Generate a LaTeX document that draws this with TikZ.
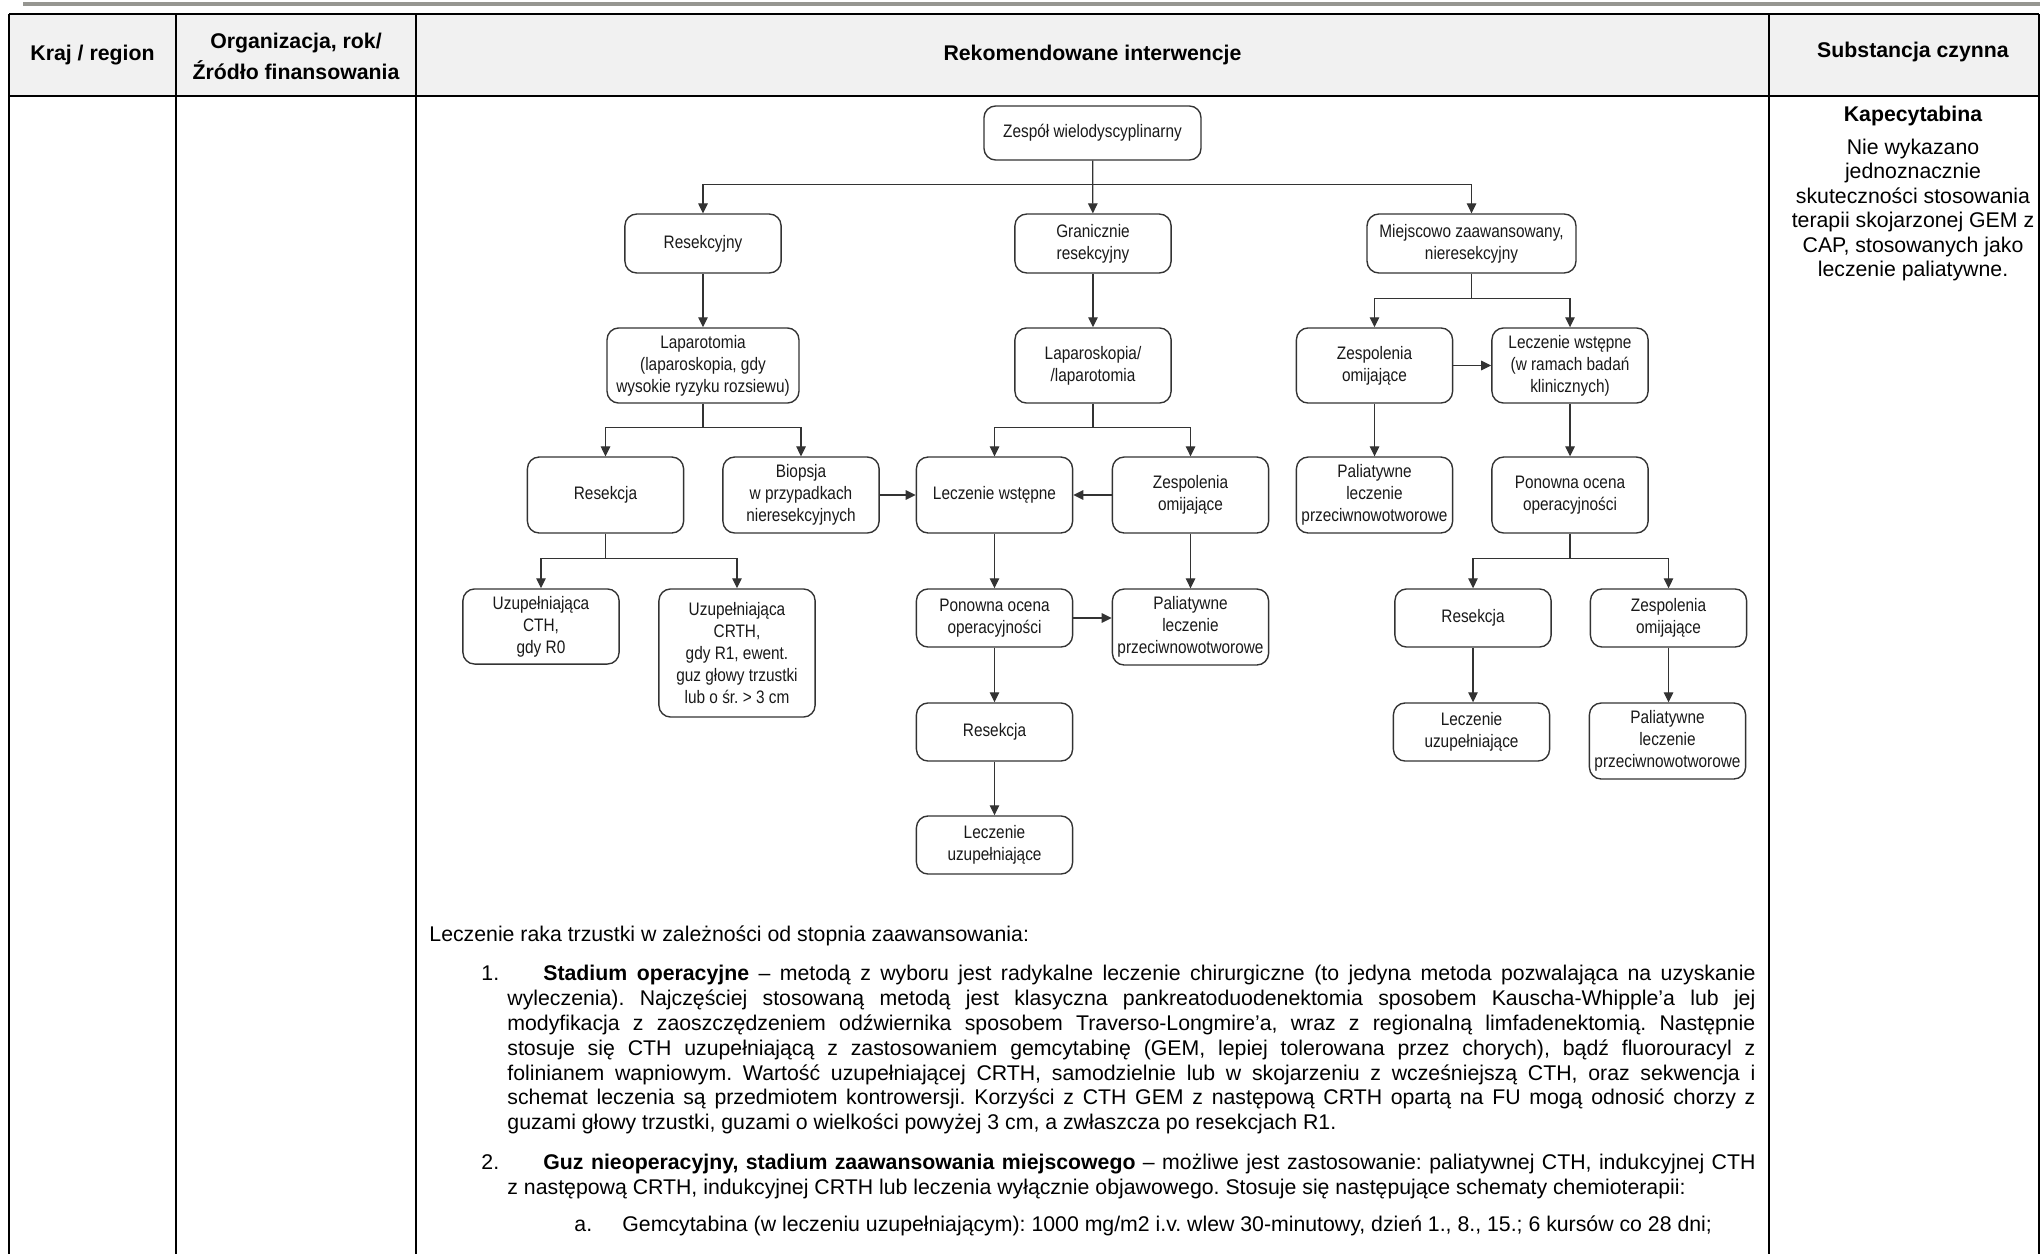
\documentclass[tikz,border=0pt]{standalone}
\usepackage{fontspec}
\setmainfont{Liberation Sans}
\newfontfamily\flowfont[FakeStretch=0.85]{Liberation Sans}
\usetikzlibrary{arrows.meta}
\tolerance=9999
\hyphenpenalty=10000
\exhyphenpenalty=10000
\frenchspacing
\definecolor{rulegray}{RGB}{150,150,145}
\definecolor{headgray}{RGB}{241,241,241}
\tikzset{
  box/.style={draw=black!80, line width=0.65pt, rounded corners=5.5pt, align=center, inner sep=0pt,
    font=\flowfont\fontsize{8.5}{10.3}\selectfont, text=black!90, minimum width=73.4pt},
  arr/.style={draw=black!80, line width=0.6pt, -{Triangle[length=4.7pt,width=4.5pt]}},
  head/.style={font=\bfseries\fontsize{10}{14.5}\selectfont, align=center, inner sep=0pt},
  txt/.style={anchor=base west, inner sep=0pt, font=\fontsize{10}{11.7}\selectfont},
  para/.style={txt, text width=586.6pt, align=justify},
  tabline/.style={line width=1.25pt}
}
\begin{document}
\begin{tikzpicture}[x=0.47pt,y=-0.47pt]
\useasboundingbox (0,0) rectangle (2040,1254);
\draw[rulegray, line width=1.9pt] (23,4) -- (2040,4);
\fill[headgray] (9,14) rectangle (2039,96);
\draw[tabline] (9,14) -- (2039,14);
\draw[tabline] (9,96) -- (2039,96);
\foreach \x in {9,176,416,1769,2039}
  \draw[tabline] (\x,14) -- (\x,1254);
\node[head] (kraj) at (92.5,55) {Kraj / region};
\node[head] (org) at (296,56) {Organizacja, rok/\\Źródło finansowania};
\node[head] (rek) at (1092.5,55) {Rekomendowane interwencje};
\node[head] (sub) at (1913,52) {Substancja czynna};
\node[head] (kap) at (1913,116) {Kapecytabina};
\node[align=center, inner sep=0pt, font=\fontsize{10}{11.5}\selectfont] (opis) at (1913,210)
  {Nie wykazano\\jednoznacznie\\skuteczności stosowania\\terapii skojarzonej GEM z\\CAP, stosowanych jako\\leczenie paliatywne.};

\node[box, minimum width=102pt, minimum height=25.4pt] (zesp) at (1092.5,133) {Zespół wielodyscyplinarny};
\node[box, minimum height=27.7pt] (resy) at (703,243.5) {Resekcyjny};
\node[box, minimum height=27.7pt] (gran) at (1093,243.5) {Granicznie\\resekcyjny};
\node[box, minimum width=98.2pt, minimum height=27.7pt] (miej) at (1471.5,243.5) {Miejscowo zaawansowany,\\nieresekcyjny};
\node[box, minimum width=90.2pt, minimum height=35.3pt] (lapt) at (703,365.5) {Laparotomia\\(laparoskopia, gdy\\wysokie ryzyku rozsiewu)};
\node[box, minimum height=35.3pt] (lapk) at (1093,365.5) {Laparoskopia/\\/laparotomia};
\node[box, minimum height=35.3pt] (zespR) at (1374.5,365.5) {Zespolenia\\omijające};
\node[box, minimum height=35.3pt] (leczB) at (1570,365.5) {Leczenie wstępne\\(w ramach badań\\klinicznych)};
\node[box, minimum height=35.7pt] (resL) at (605.5,495) {Resekcja};
\node[box, minimum height=35.7pt] (biop) at (801,495) {Biopsja\\w przypadkach\\nieresekcyjnych};
\node[box, minimum height=35.7pt] (leczW) at (994.5,495) {Leczenie wstępne};
\node[box, minimum height=35.7pt] (zespM) at (1190.5,495) {Zespolenia\\omijające};
\node[box, minimum height=35.7pt] (paliR) at (1374.5,495) {Paliatywne\\leczenie\\przeciwnowotworowe};
\node[box, minimum height=35.7pt] (ponR) at (1570,495) {Ponowna ocena\\operacyjności};
\node[box, minimum height=35.3pt] (uzCTH) at (541,626.5) {Uzupełniająca\\CTH,\\gdy R0};
\node[box, minimum height=60.2pt] (uzCRTH) at (737,653) {Uzupełniająca\\CRTH,\\gdy R1, ewent.\\guz głowy trzustki\\lub o śr. > 3 cm};
\node[box, minimum height=27.3pt] (ponM) at (994.5,618) {Ponowna ocena\\operacyjności};
\node[box, minimum height=35.7pt] (paliM) at (1190.5,627) {Paliatywne\\leczenie\\przeciwnowotworowe};
\node[box, minimum height=27.3pt] (resM) at (994.5,732) {Resekcja};
\node[box, minimum height=27.3pt] (leczM) at (994.5,845) {Leczenie\\uzupełniające};
\node[box, minimum height=27.3pt] (resRR) at (1473,618) {Resekcja};
\node[box, minimum height=27.3pt] (zespRR) at (1668.5,618) {Zespolenia\\omijające};
\node[box, minimum height=27.3pt] (leczRR) at (1471.5,732) {Leczenie\\uzupełniające};
\node[box, minimum height=35.7pt] (paliRR) at (1667.5,741) {Paliatywne\\leczenie\\przeciwnowotworowe};

\draw[arr] (zesp) -- (gran);
\draw[arr] (zesp.south) -- ++(0,24) -| (resy.north);
\draw[arr] (zesp.south) -- ++(0,24) -| (miej.north);
\draw[arr] (resy) -- (lapt);
\draw[arr] (gran) -- (lapk);
\draw[arr] (miej.south) -- ++(0,25) -| (zespR.north);
\draw[arr] (miej.south) -- ++(0,25) -| (leczB.north);
\draw[arr] (zespR) -- (leczB);
\draw[arr] (lapt.south) -- ++(0,24) -| (resL.north);
\draw[arr] (lapt.south) -- ++(0,24) -| (biop.north);
\draw[arr] (lapk.south) -- ++(0,24) -| (leczW.north);
\draw[arr] (lapk.south) -- ++(0,24) -| (zespM.north);
\draw[arr] (biop) -- (leczW);
\draw[arr] (zespM) -- (leczW);
\draw[arr] (zespR) -- (paliR);
\draw[arr] (leczB) -- (ponR);
\draw[arr] (resL.south) -- ++(0,25) -| (uzCTH.north);
\draw[arr] (resL.south) -- ++(0,25) -| (uzCRTH.north);
\draw[arr] (leczW) -- (ponM);
\draw[arr] (zespM) -- (paliM);
\draw[arr] (ponM.east) -- (ponM.east -| paliM.west);
\draw[arr] (ponM) -- (resM);
\draw[arr] (resM) -- (leczM);
\draw[arr] (ponR.south) -- ++(0,25) -| (resRR.north);
\draw[arr] (ponR.south) -- ++(0,25) -| (zespRR.north);
\draw[arr] (resRR.south) -- (resRR.south |- leczRR.north);
\draw[arr] (zespRR.south) -- (zespRR.south |- paliRR.north);

\node[txt] (lead) at (429,941.5) {Leczenie raka trzustki w zależności od stopnia zaawansowania:};
\node[txt] (n1) at (481,980.5) {1.};
\node[para] (p1) at (507,980.5) {\hspace*{16.9pt}\textbf{Stadium operacyjne} – metodą z wyboru jest radykalne leczenie chirurgiczne (to jedyna metoda pozwalająca na uzyskanie\linebreak
wyleczenia). Najczęściej stosowaną metodą jest klasyczna pankreatoduodenektomia sposobem Kauscha-Whipple’a lub jej\linebreak
modyfikacja z zaoszczędzeniem odźwiernika sposobem Traverso-Longmire’a, wraz z regionalną limfadenektomią. Następnie\linebreak
stosuje się CTH uzupełniającą z zastosowaniem gemcytabinę (GEM, lepiej tolerowana przez chorych), bądź fluorouracyl z\linebreak
folinianem wapniowym. Wartość uzupełniającej CRTH, samodzielnie lub w skojarzeniu z wcześniejszą CTH, oraz sekwencja i\linebreak
schemat leczenia są przedmiotem kontrowersji. Korzyści z CTH GEM z następową CRTH opartą na FU mogą odnosić chorzy z\linebreak
guzami głowy trzustki, guzami o wielkości powyżej 3 cm, a zwłaszcza po resekcjach R1.};
\node[txt] (n2) at (481,1169.5) {2.};
\node[para] (p2) at (507,1169.5) {\hspace*{16.9pt}\textbf{Guz nieoperacyjny, stadium zaawansowania miejscowego} – możliwe jest zastosowanie: paliatywnej CTH, indukcyjnej CTH\linebreak
z następową CRTH, indukcyjnej CRTH lub leczenia wyłącznie objawowego. Stosuje się następujące schematy chemioterapii:};
\node[txt] (na) at (574,1231.5) {a.};
\node[txt] (pa) at (622,1231.5) {Gemcytabina (w leczeniu uzupełniającym): 1000 mg/m2 i.v. wlew 30-minutowy, dzień 1., 8., 15.; 6 kursów co 28 dni;};
\end{tikzpicture}
\end{document}
